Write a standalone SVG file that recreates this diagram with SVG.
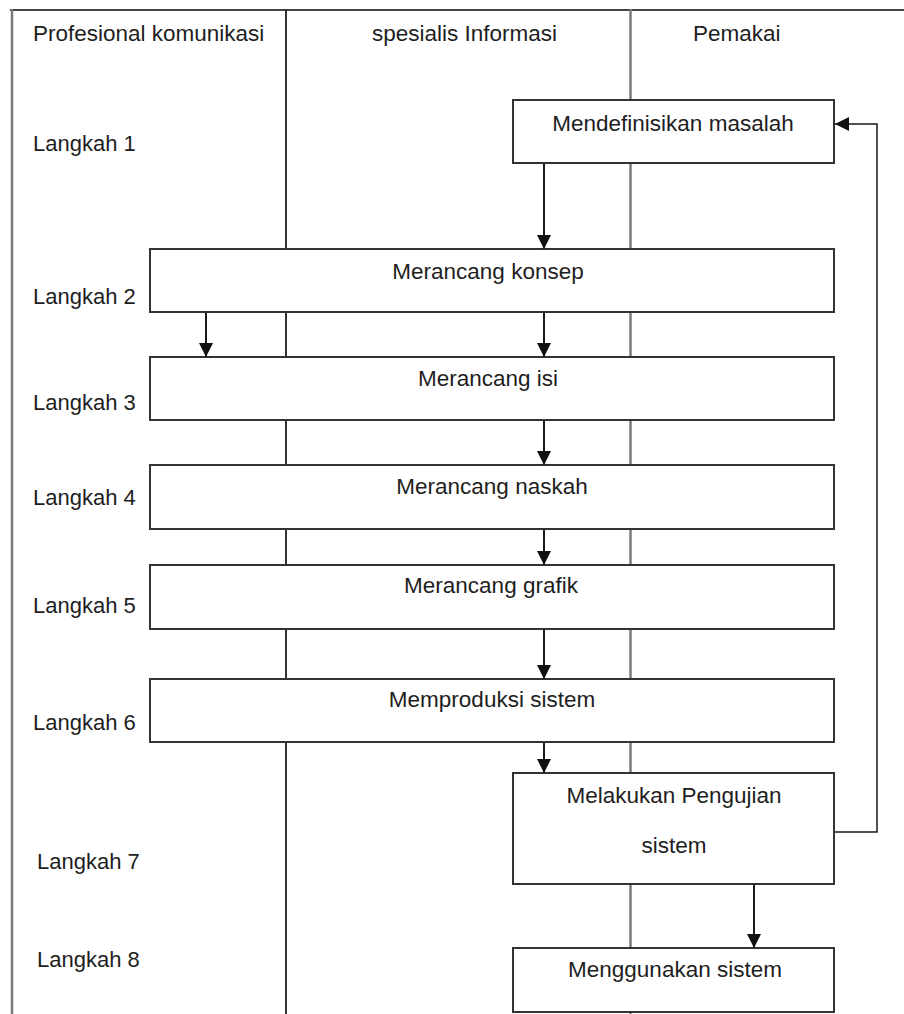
<svg xmlns="http://www.w3.org/2000/svg" width="904" height="1014" viewBox="0 0 904 1014">
<defs>
<marker id="ah" markerUnits="userSpaceOnUse" markerWidth="14" markerHeight="14" viewBox="0 0 12 12" refX="12" refY="6" orient="auto">
<path d="M0,0 L12,6 L0,12 Z" fill="#111"/>
</marker>
</defs>
<style>
text{font-family:"Liberation Sans",Arial,sans-serif;fill:#1e1e1e}
.h{font-size:22.5px}
.l{font-size:22px}
.b{font-size:22.5px;text-anchor:middle}
.box{fill:#fff;stroke:#333;stroke-width:2}
.lane{stroke:#7a7a7a;stroke-width:2.5;fill:none}
.arr{stroke:#1a1a1a;stroke-width:2;fill:none;marker-end:url(#ah)}
.fb{stroke:#1a1a1a;stroke-width:1.5;fill:none;marker-end:url(#ah)}
</style>
<rect width="904" height="1014" fill="#fff"/>
<g id="frame">
<line x1="10" y1="10" x2="904" y2="10" stroke="#444" stroke-width="2"/>
<line x1="12" y1="9" x2="12" y2="1014" class="lane" stroke-width="3"/>
<line x1="286" y1="9" x2="286" y2="1014" stroke="#333" stroke-width="2"/>
<line x1="630.5" y1="9" x2="630.5" y2="1014" class="lane"/>
</g>
<g id="headers">
<text class="h" x="33" y="41">Profesional komunikasi</text>
<text class="h" x="372" y="41">spesialis Informasi</text>
<text class="h" x="693" y="41">Pemakai</text>
</g>
<g id="steps">
<text class="l" x="33" y="151">Langkah 1</text>
<text class="l" x="33" y="304">Langkah 2</text>
<text class="l" x="33" y="410">Langkah 3</text>
<text class="l" x="33" y="505">Langkah 4</text>
<text class="l" x="33" y="613">Langkah 5</text>
<text class="l" x="33" y="730">Langkah 6</text>
<text class="l" x="37" y="869">Langkah 7</text>
<text class="l" x="37" y="967">Langkah 8</text>
</g>
<g id="n1"><rect class="box" x="513" y="100" width="321" height="63"/><text class="b" x="673" y="131">Mendefinisikan masalah</text></g>
<g id="n2"><rect class="box" x="150" y="249" width="684" height="63"/><text class="b" x="488" y="279">Merancang konsep</text></g>
<g id="n3"><rect class="box" x="150" y="357" width="684" height="63"/><text class="b" x="488" y="386">Merancang isi</text></g>
<g id="n4"><rect class="box" x="150" y="465" width="684" height="64"/><text class="b" x="492" y="494">Merancang naskah</text></g>
<g id="n5"><rect class="box" x="150" y="565" width="684" height="64"/><text class="b" x="491" y="593">Merancang grafik</text></g>
<g id="n6"><rect class="box" x="150" y="679" width="684" height="63"/><text class="b" x="492" y="707">Memproduksi sistem</text></g>
<g id="n7"><rect class="box" x="513" y="773" width="321" height="111"/><text class="b" x="674" y="803">Melakukan Pengujian</text><text class="b" x="674" y="853">sistem</text></g>
<g id="n8"><rect class="box" x="513" y="948" width="321" height="64"/><text class="b" x="675" y="977">Menggunakan sistem</text></g>
<g id="connectors">
<line class="arr" x1="544" y1="164" x2="544" y2="249"/>
<line class="arr" x1="206" y1="313" x2="206" y2="357"/>
<line class="arr" x1="544" y1="313" x2="544" y2="357"/>
<line class="arr" x1="544" y1="421" x2="544" y2="465"/>
<line class="arr" x1="544" y1="530" x2="544" y2="565"/>
<line class="arr" x1="544" y1="630" x2="544" y2="679"/>
<line class="arr" x1="544" y1="743" x2="544" y2="773"/>
<line class="arr" x1="754" y1="885" x2="754" y2="948"/>
<polyline class="fb" points="835,832 877,832 877,124 835,124"/>
</g>
</svg>
